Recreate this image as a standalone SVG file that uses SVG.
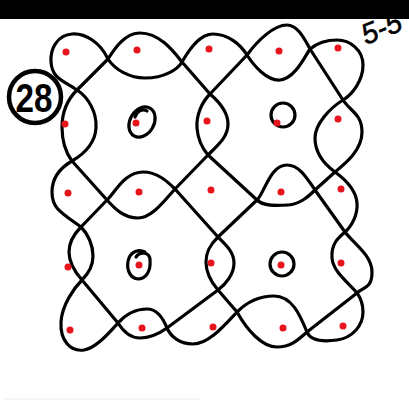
<svg xmlns="http://www.w3.org/2000/svg" width="409" height="402" viewBox="0 0 409 402">
<style>
.k{fill:none;stroke:#000;stroke-width:3.2;stroke-linecap:round;stroke-linejoin:round}
.d{fill:#e8141c}
</style>
<rect width="409" height="402" fill="#fff"/>
<rect x="0" y="0" width="409" height="19" fill="#000"/>
<line x1="5" y1="399" x2="200" y2="399" stroke="#f5f5f5" stroke-width="2"/>
<g id="label-28">
<circle cx="35" cy="97" r="26" fill="none" stroke="#000" stroke-width="4.5"/>
<text x="34" y="112" text-anchor="middle" font-family="Liberation Sans, Arial, sans-serif" font-weight="bold" font-size="40" textLength="37" lengthAdjust="spacingAndGlyphs">28</text>
</g>
<g id="label-55">
<text x="366" y="45" transform="rotate(-22 366 45)" font-family="Liberation Sans, Arial, sans-serif" font-style="italic" font-size="29" textLength="41" lengthAdjust="spacingAndGlyphs" stroke="#000" stroke-width="0.6">5-5</text>
</g>
<g id="strands">
<path id="strand1" class="k" d="M108,59 C100,42 85,33 72,34 C58,35 50,48 51,62 C52,78 62,80 77,90 C88,97 97,112 96,128 S84,154 72,161 C60,168 52,178 52,192 C52,208 60,212 81,227 C88,234 93,245 93,256 S88,274 82,280 C74,288 62,305 61,322 C60,340 70,352 84,350 C96,348 108,334 118,323 C126,314 136,309 147,309 C157,309 163,318 167,328 C171,337 180,344 193,344 C208,344 222,328 237,312 C247,302 260,296 274,296 C292,296 300,315 307,332 C310,340 322,342 337,340 C352,338 363,326 363,312 C363,303 360,297 357,293 C349,283 333,272 332,258 S338,238 345,232 C352,226 358,214 357,203 C356,190 346,180 335,172 C324,164 315,152 315,138 S330,108 343,100 C353,94 363,80 363,65 C363,50 350,40 337,40 C326,40 316,44 310,49 C304,58 295,78 280,80 C267,81 254,66 247,55 C240,44 228,34 213,34 C200,34 190,48 182,62 C178,69 165,78 145,78 C130,78 115,70 108,59 Z"/>
<path id="strand2" class="k" d="M108,59 L77,90 C68,99 62,112 62,127 S66,153 72,161 L107,200 C115,209 124,218 138,218 C152,218 165,200 175,189 L208,155 C218,145 228,137 228,124 S217,100 210,94 L182,62 C174,52 160,33 140,33 C125,33 115,48 108,59 Z"/>
<path id="strand3" class="k" d="M247,55 L210,94 C202,102 196,115 197,128 S202,148 208,155 L257,200 C263,206 275,206 288,205 C300,204 308,197 315,190 L335,172 C346,163 362,150 362,132 S350,111 343,100 L310,49 C305,40 298,25 287,25 C274,25 258,40 247,55 Z"/>
<path id="strand4" class="k" d="M81,227 L107,200 C116,191 125,172 143,172 C157,172 167,181 175,189 L218,237 C226,245 234,252 234,263 S226,284 218,290 L167,328 C160,333 150,338 140,338 C130,338 123,331 118,323 L82,280 C74,271 69,262 69,252 S75,233 81,227 Z"/>
<path id="strand5" class="k" d="M218,237 L257,200 C265,192 270,165 287,165 C300,165 308,180 315,190 L345,232 C353,243 372,255 372,272 S363,287 357,293 L307,332 C300,338 292,347 277,347 C262,347 247,330 237,312 L218,290 C212,283 206,273 206,262 S211,244 218,237 Z"/>
</g>
<g id="inner-loops">
<ellipse id="loop-r2c2" class="k" cx="142" cy="122" rx="16" ry="12" transform="rotate(-60 142 122)"/>
<path class="k" d="M135,117 C137,111 143,108 147,111"/>
<circle id="loop-r2c4" class="k" cx="283" cy="115" r="12"/>
<path id="loop-r4c2" class="k" d="M136,257 C140,251 150,252 150,260 C151,271 146,279 138,279 C128,278 126,266 129,258 C132,251 139,249 145,252"/>
<circle id="loop-r4c4" class="k" cx="282" cy="264" r="12"/>
</g>
<g id="dots">
<circle class="d" cx="66" cy="52" r="3.5"/><circle class="d" cx="137" cy="50" r="3.5"/><circle class="d" cx="209" cy="49" r="3.5"/><circle class="d" cx="279" cy="51" r="3.5"/><circle class="d" cx="338" cy="48" r="3.5"/>
<circle class="d" cx="65" cy="124" r="3.5"/><circle class="d" cx="136" cy="123" r="3.5"/><circle class="d" cx="207" cy="121" r="3.5"/><circle class="d" cx="277" cy="123" r="3.5"/><circle class="d" cx="338" cy="119" r="3.5"/>
<circle class="d" cx="68" cy="193" r="3.5"/><circle class="d" cx="139" cy="192" r="3.5"/><circle class="d" cx="211" cy="190" r="3.5"/><circle class="d" cx="281" cy="192" r="3.5"/><circle class="d" cx="341" cy="189" r="3.5"/>
<circle class="d" cx="68" cy="267" r="3.5"/><circle class="d" cx="139" cy="265" r="3.5"/><circle class="d" cx="211" cy="263" r="3.5"/><circle class="d" cx="281" cy="265" r="3.5"/><circle class="d" cx="341" cy="263" r="3.5"/>
<circle class="d" cx="70" cy="330" r="3.5"/><circle class="d" cx="142" cy="328" r="3.5"/><circle class="d" cx="213" cy="327" r="3.5"/><circle class="d" cx="283" cy="328" r="3.5"/><circle class="d" cx="343" cy="326" r="3.5"/>
</g>
</svg>
